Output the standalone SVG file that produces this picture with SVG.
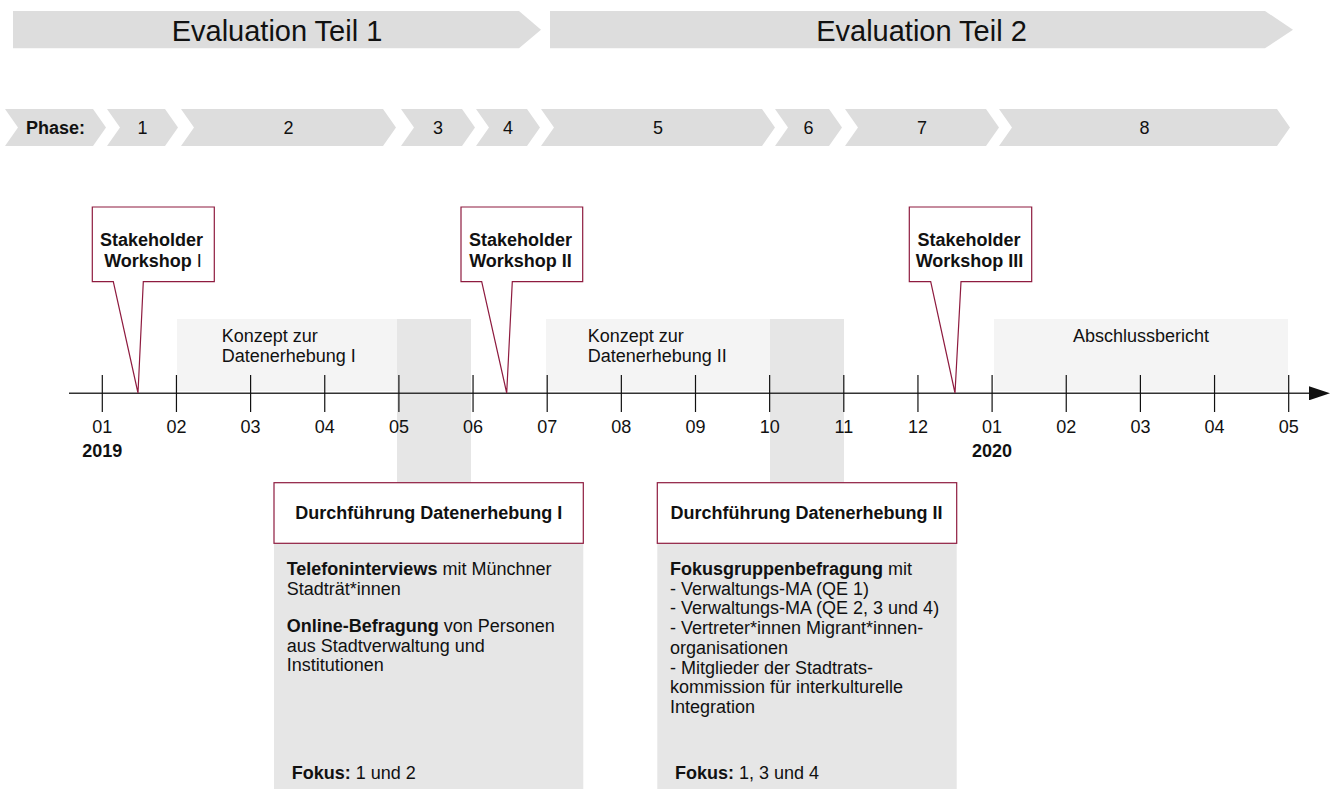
<svg xmlns="http://www.w3.org/2000/svg" width="1333" height="789" viewBox="0 0 1333 789">
<style>
text{font-family:"Liberation Sans",Arial,sans-serif;fill:#111;font-size:18px}
.b{font-weight:bold}
.big{font-size:29px}
.mid{text-anchor:middle}
.bar{fill:#dddddd}
.lite{fill:#f4f4f4}
.dark{fill:#e6e6e6}
.call{fill:#fff;stroke:#8e1b3f;stroke-width:1.2}
.tick{stroke:#111;stroke-width:1.2}
</style>
<defs>
<marker id="arr" markerWidth="22" markerHeight="14" refX="0" refY="7" orient="auto" markerUnits="userSpaceOnUse">
<path d="M0,0 L21,7 L0,14 Z" fill="#111"/>
</marker>
</defs>
<rect width="1333" height="789" fill="#fff"/>

<g id="evaluation-teil-1">
<polygon class="bar" points="13,11 519,11 541,29.7 519,48.3 13,48.3"/>
<text class="big mid" x="277" y="40.7">Evaluation Teil 1</text>
</g>
<g id="evaluation-teil-2">
<polygon class="bar" points="550,11 1265,11 1293,29.7 1265,48.3 550,48.3"/>
<text class="big mid" x="921.5" y="40.7">Evaluation Teil 2</text>
</g>

<g id="phases">
<g id="phase-label"><polygon class="bar" points="5,109 93,109 106,127.5 93,146 5,146 18,127.5"/><text class="b mid" x="55.5" y="134">Phase:</text></g>
<g id="phase-1"><polygon class="bar" points="107,109 165,109 178,127.5 165,146 107,146 120,127.5"/><text class="mid" x="142.5" y="134">1</text></g>
<g id="phase-2"><polygon class="bar" points="181,109 383,109 396,127.5 383,146 181,146 194,127.5"/><text class="mid" x="288.5" y="134">2</text></g>
<g id="phase-3"><polygon class="bar" points="401,109 462,109 475,127.5 462,146 401,146 414,127.5"/><text class="mid" x="438" y="134">3</text></g>
<g id="phase-4"><polygon class="bar" points="476,109 527,109 540,127.5 527,146 476,146 489,127.5"/><text class="mid" x="508" y="134">4</text></g>
<g id="phase-5"><polygon class="bar" points="541,109 762,109 775,127.5 762,146 541,146 554,127.5"/><text class="mid" x="658" y="134">5</text></g>
<g id="phase-6"><polygon class="bar" points="775,109 829,109 842,127.5 829,146 775,146 788,127.5"/><text class="mid" x="808.5" y="134">6</text></g>
<g id="phase-7"><polygon class="bar" points="845,109 986,109 999,127.5 986,146 845,146 858,127.5"/><text class="mid" x="922" y="134">7</text></g>
<g id="phase-8"><polygon class="bar" points="999,109 1277,109 1290,127.5 1277,146 999,146 1012,127.5"/><text class="mid" x="1144.5" y="134">8</text></g>
</g>

<g id="bands">
<rect class="dark" x="397" y="319" width="74" height="470"/>
<rect class="dark" x="770" y="319" width="74" height="470"/>
</g>

<g id="konzept-1">
<rect class="lite" x="177" y="319" width="220" height="72"/>
<text x="221.7" y="341.7">Konzept zur</text>
<text x="221.7" y="361.7">Datenerhebung I</text>
</g>
<g id="konzept-2">
<rect class="lite" x="546" y="319" width="224" height="72"/>
<text x="587.7" y="341.7">Konzept zur</text>
<text x="587.7" y="361.7">Datenerhebung II</text>
</g>
<g id="abschlussbericht">
<rect class="lite" x="994" y="319" width="294" height="72"/>
<text class="mid" x="1141" y="341.7">Abschlussbericht</text>
</g>

<g id="timeline">
<line x1="69" y1="393.3" x2="1309" y2="393.3" stroke="#333" stroke-width="1.5" marker-end="url(#arr)"/>
<g class="tick">
<line x1="102.3" y1="375" x2="102.3" y2="412"/>
<line x1="176.45" y1="375" x2="176.45" y2="412"/>
<line x1="250.6" y1="375" x2="250.6" y2="412"/>
<line x1="324.75" y1="375" x2="324.75" y2="412"/>
<line x1="398.9" y1="375" x2="398.9" y2="412"/>
<line x1="473.05" y1="375" x2="473.05" y2="412"/>
<line x1="547.2" y1="375" x2="547.2" y2="412"/>
<line x1="621.35" y1="375" x2="621.35" y2="412"/>
<line x1="695.5" y1="375" x2="695.5" y2="412"/>
<line x1="769.65" y1="375" x2="769.65" y2="412"/>
<line x1="843.8" y1="375" x2="843.8" y2="412"/>
<line x1="917.95" y1="375" x2="917.95" y2="412"/>
<line x1="992.1" y1="375" x2="992.1" y2="412"/>
<line x1="1066.25" y1="375" x2="1066.25" y2="412"/>
<line x1="1140.4" y1="375" x2="1140.4" y2="412"/>
<line x1="1214.55" y1="375" x2="1214.55" y2="412"/>
<line x1="1288.7" y1="375" x2="1288.7" y2="412"/>
</g>
<g class="months">
<text class="mid" x="102.3" y="433.3">01</text>
<text class="mid" x="176.45" y="433.3">02</text>
<text class="mid" x="250.6" y="433.3">03</text>
<text class="mid" x="324.75" y="433.3">04</text>
<text class="mid" x="398.9" y="433.3">05</text>
<text class="mid" x="473.05" y="433.3">06</text>
<text class="mid" x="547.2" y="433.3">07</text>
<text class="mid" x="621.35" y="433.3">08</text>
<text class="mid" x="695.5" y="433.3">09</text>
<text class="mid" x="769.65" y="433.3">10</text>
<text class="mid" x="843.8" y="433.3">11</text>
<text class="mid" x="917.95" y="433.3">12</text>
<text class="mid" x="992.1" y="433.3">01</text>
<text class="mid" x="1066.25" y="433.3">02</text>
<text class="mid" x="1140.4" y="433.3">03</text>
<text class="mid" x="1214.55" y="433.3">04</text>
<text class="mid" x="1288.7" y="433.3">05</text>
</g>
<text class="b mid" x="102.3" y="456.5">2019</text>
<text class="b mid" x="992.1" y="456.5">2020</text>
</g>

<g id="workshop-1">
<path class="call" d="M92.3,207 H214.3 V281.7 H143.3 L138,393 L113.3,281.7 H92.3 Z"/>
<text class="b mid" x="151.5" y="245.7">Stakeholder</text>
<text class="mid" x="153" y="266.7"><tspan class="b">Workshop</tspan> I</text>
</g>
<g id="workshop-2">
<path class="call" d="M461,207 H582.7 V281.7 H512.3 L506.7,393 L481.7,281.7 H461 Z"/>
<text class="b mid" x="520.5" y="245.7">Stakeholder</text>
<text class="b mid" x="520.5" y="266.7">Workshop II</text>
</g>
<g id="workshop-3">
<path class="call" d="M909.3,207 H1031.7 V281.7 H961 L955,393 L930.7,281.7 H909.3 Z"/>
<text class="b mid" x="969" y="245.7">Stakeholder</text>
<text class="b mid" x="969.5" y="266.7">Workshop III</text>
</g>

<g id="durchfuehrung-1">
<rect class="dark" x="274" y="543" width="309.3" height="246"/>
<rect class="call" x="274" y="482.7" width="309.3" height="60.6"/>
<text class="b mid" x="428.7" y="519">Durchführung Datenerhebung I</text>
<text x="286.7" y="575"><tspan class="b">Telefoninterviews</tspan> mit Münchner</text>
<text x="286.7" y="594.5">Stadträt*innen</text>
<text x="286.7" y="632"><tspan class="b">Online-Befragung</tspan> von Personen</text>
<text x="286.7" y="651.5">aus Stadtverwaltung und</text>
<text x="286.7" y="671">Institutionen</text>
<text x="291.7" y="779.3"><tspan class="b">Fokus:</tspan> 1 und 2</text>
</g>
<g id="durchfuehrung-2">
<rect class="dark" x="657.3" y="543" width="299.4" height="246"/>
<rect class="call" x="657.3" y="482.7" width="299.4" height="60.6"/>
<text class="b mid" x="806.5" y="519">Durchführung Datenerhebung II</text>
<text x="670" y="575"><tspan class="b">Fokusgruppenbefragung</tspan> mit</text>
<text x="670" y="594.7">- Verwaltungs-MA (QE 1)</text>
<text x="670" y="614.4">- Verwaltungs-MA (QE 2, 3 und 4)</text>
<text x="670" y="634.1">- Vertreter*innen Migrant*innen-</text>
<text x="670" y="653.8">organisationen</text>
<text x="670" y="673.5">- Mitglieder der Stadtrats-</text>
<text x="670" y="693.2">kommission für interkulturelle</text>
<text x="670" y="712.9">Integration</text>
<text x="675" y="779.3"><tspan class="b">Fokus:</tspan> 1, 3 und 4</text>
</g>
</svg>
